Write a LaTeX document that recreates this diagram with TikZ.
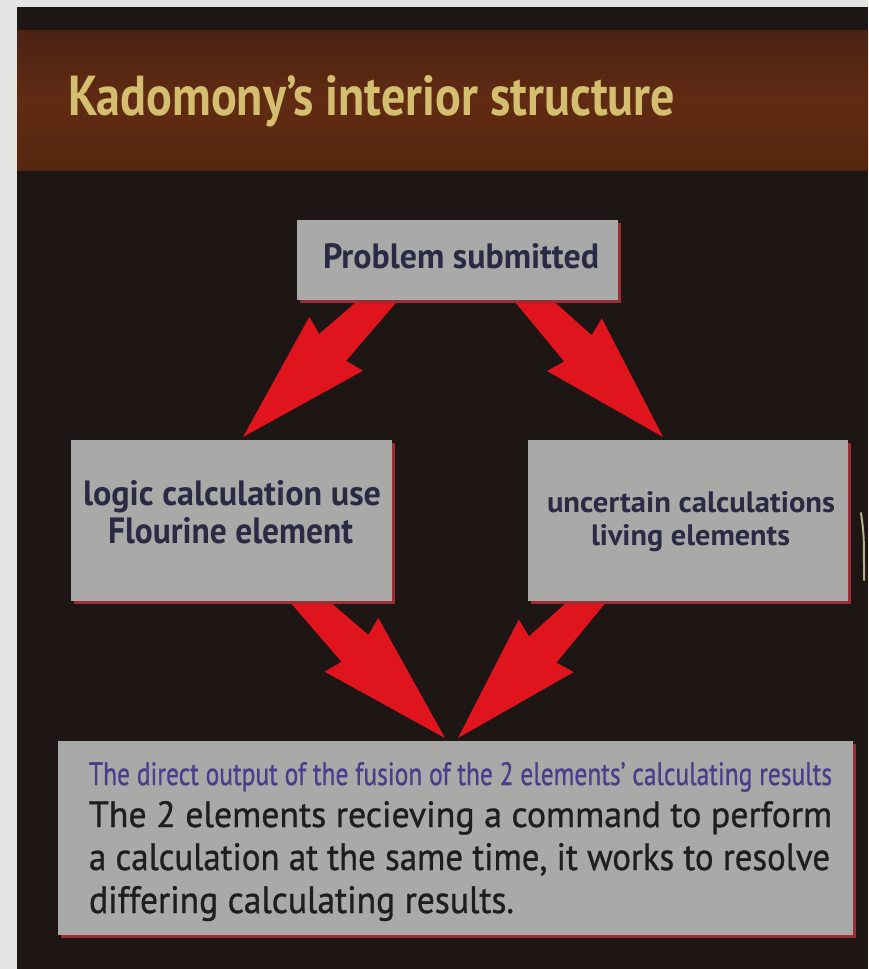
\documentclass[tikz,border=0pt]{standalone}
\usepackage{fontspec}
\usepackage{graphicx}
\setmainfont{PT Sans}
\newfontfamily\medfont[FakeBold=0.9,Ligatures=TeX]{PT Sans}
\usetikzlibrary{calc,shadows}
\definecolor{margincol}{HTML}{E4E4E2}
\definecolor{framecol}{HTML}{1E1614}
\definecolor{browntop}{HTML}{4A2214}
\definecolor{brownmid}{HTML}{612B13}
\definecolor{brownbot}{HTML}{55260F}
\definecolor{titlecol}{HTML}{D4BE70}
\definecolor{boxgray}{HTML}{A9A9A7}
\definecolor{boxshade}{HTML}{9A2E34}
\definecolor{arrowred}{HTML}{E0141C}
\definecolor{navytext}{HTML}{2A2A44}
\definecolor{purpletext}{HTML}{4B3C8C}
\definecolor{bodytext}{HTML}{1E1E1E}
\definecolor{paleline}{HTML}{BCAE80}
\pgfdeclarelayer{bglayer}
\pgfdeclarelayer{arrowlayer}
\pgfsetlayers{bglayer,arrowlayer,main}
\tikzset{
  graybox/.style={rectangle, fill=boxgray, inner sep=0pt, outer sep=0pt,
    drop shadow={shadow xshift=2.5pt, shadow yshift=-2.5pt, fill=boxshade, opacity=1}},
  txt/.style={anchor=base west, inner sep=0pt, outer sep=0pt},
  fatarrow/.style={fill=arrowred}
}
\newcommand{\redarrow}[3]{%
  \coordinate (#1o) at ($(#2)!-20pt!(#3)$);
  \coordinate (#1b) at ($(#2)!62pt!(#3)$);
  \coordinate (#1i) at ($(#2)!67pt!(#3)$);
  \fill[fatarrow] ($(#1o)!12.5pt!90:(#3)$) -- ($(#1i)!19pt!90:(#3)$)
    -- ($(#1b)!38pt!90:(#3)$) -- (#3) -- ($(#1b)!38pt!-90:(#3)$)
    -- ($(#1i)!19pt!-90:(#3)$) -- ($(#1o)!12.5pt!-90:(#3)$) -- cycle;
}
\begin{document}
\begin{tikzpicture}[x=1pt,y=-1pt]
\useasboundingbox (0,0) rectangle (868,969);
\begin{pgfonlayer}{bglayer}
  \fill[margincol] (0,0) rectangle (868,969);
  \fill[framecol] (17,7) rectangle (868,969);
  \shade[top color=browntop, bottom color=brownbot, middle color=brownmid] (17,30) rectangle (868,170);
  \draw[paleline, line width=2pt, line cap=round] (861,513) .. controls (864,535) .. (864,580);
\end{pgfonlayer}

\node[txt, text=titlecol] (title) at (68,115) {\resizebox{607pt}{40pt}{\bfseries Kadomony’s interior structure}};

% boxes
\node[graybox, minimum width=321pt, minimum height=80pt] (prob) at (457.5,260) {};
\node[graybox, minimum width=321pt, minimum height=161pt] (lft) at (231.5,520.5) {};
\node[graybox, minimum width=320pt, minimum height=161pt] (rgt) at (688,520.5) {};
\node[graybox, minimum width=795pt, minimum height=194pt] (bot) at (455.5,838) {};

% texts
\node[txt, text=navytext] (probt) at (323,268) {\resizebox{276pt}{25pt}{\bfseries Problem submitted}};
\node[txt, text=navytext] (lftta) at (83,505) {\resizebox{298pt}{25pt}{\bfseries logic calculation use}};
\node[txt, text=navytext] (lfttb) at (108,543) {\resizebox{245pt}{26pt}{\bfseries Flourine element}};
\node[txt, text=navytext] (rgtta) at (547,512) {\resizebox{288pt}{21pt}{\bfseries uncertain calculations}};
\node[txt, text=navytext] (rgttb) at (591,545) {\resizebox{199pt}{21pt}{\bfseries living elements}};
\node[txt, text=purpletext] (bothead) at (89,785) {\resizebox{743pt}{23pt}{\medfont The direct output of the fusion of the 2 elements’ calculating results}};
\node[txt, text=bodytext] (bota) at (89,827) {\resizebox{743pt}{26pt}{\medfont The 2 elements recieving a command to perform}};
\node[txt, text=bodytext] (botb) at (89,870) {\resizebox{741pt}{27pt}{\medfont a calculation at the same time, it works to resolve}};
\node[txt, text=bodytext] (botc) at (89,913) {\resizebox{425pt}{27pt}{\medfont differing calculating results.}};

% arrows
\begin{pgfonlayer}{arrowlayer}
  \coordinate (s1) at ($(prob.south)+(-77.5,0)$);
  \coordinate (t1) at ($(lft.north)+(11.5,-3)$);
  \coordinate (s2) at ($(prob.south)+(74,0)$);
  \coordinate (t2) at ($(rgt.north)+(-25,-3)$);
  \coordinate (s3) at ($(lft.south)+(76,0)$);
  \coordinate (t3) at ($(bot.north)+(-10.5,-3)$);
  \coordinate (s4) at ($(rgt.south)+(-99,0)$);
  \coordinate (t4) at ($(bot.north)+(2.5,-3)$);
  \redarrow{aa}{s1}{t1}
  \redarrow{ab}{s2}{t2}
  \redarrow{ac}{s3}{t3}
  \redarrow{ad}{s4}{t4}
\end{pgfonlayer}
\end{tikzpicture}
\end{document}
